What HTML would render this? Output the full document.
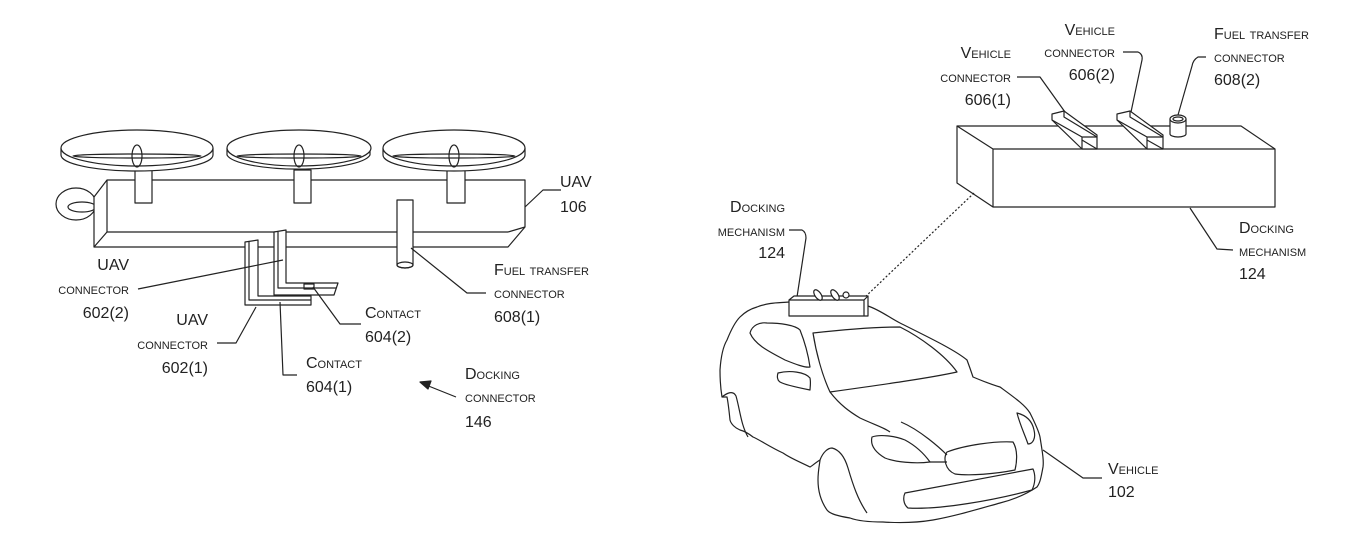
<!DOCTYPE html>
<html><head><meta charset="utf-8"><style>
html,body{margin:0;padding:0;background:#fff}
svg{display:block}
text{font-family:"Liberation Sans",sans-serif;fill:#222;font-size:16px}
.sc{font-variant:small-caps;font-size:16px}
</style></head><body>
<svg width="1359" height="558" viewBox="0 0 1359 558" xmlns="http://www.w3.org/2000/svg">
<g fill="none" stroke="#222" stroke-width="1.2" stroke-linejoin="round">
<!-- tail ring -->
<ellipse cx="76" cy="204" rx="20" ry="16"/>
<ellipse cx="82" cy="207" rx="14" ry="5"/>
<!-- body -->
<polygon points="94,197 107,180 525,180 525,227 508,247 94,247" fill="#fff"/>
<line x1="107" y1="180" x2="107" y2="232"/>
<line x1="107" y1="232" x2="94" y2="247"/>
<line x1="107" y1="232" x2="508" y2="232"/>
<line x1="508" y1="232" x2="525" y2="227"/>
<!-- masts -->
<rect x="135" y="170" width="17" height="33" fill="#fff"/>
<rect x="294" y="170" width="17" height="33" fill="#fff"/>
<rect x="447" y="170" width="18" height="33" fill="#fff"/>
<!-- rotors -->
<g fill="#fff">
<path d="M61,148 L61,155 A76,16 0 0 0 213,155 L213,148"/>
<ellipse cx="137" cy="148" rx="76" ry="18"/>
<path d="M227,148 L227,155 A72,16 0 0 0 370,155 L370,148"/>
<ellipse cx="299" cy="148" rx="72" ry="18"/>
<path d="M383,148 L383,155 A71,16 0 0 0 525,155 L525,148"/>
<ellipse cx="454" cy="148" rx="71" ry="18"/>
</g>
<g>
<ellipse cx="137" cy="156" rx="64" ry="2"/><ellipse cx="137" cy="156" rx="5" ry="11"/>
<ellipse cx="299" cy="156" rx="62" ry="2"/><ellipse cx="299" cy="156" rx="5" ry="11"/>
<ellipse cx="454" cy="156" rx="61" ry="2"/><ellipse cx="454" cy="156" rx="5" ry="11"/>
</g>
<!-- fuel cylinder -->
<path d="M397,200 L397,265 A8,3 0 0 0 413,265 L413,200 Z" fill="#fff"/>
<ellipse cx="405" cy="265" rx="8" ry="3"/>
<!-- L connectors -->
<path d="M245,242 L258,240 L258,296 L311,296 L311,305 L245,305 Z" fill="#fff"/>
<path d="M249,242 L249,300 L311,300"/>
<path d="M274,232 L286,230 L286,283 L338,283 L334,295 L274,295 Z" fill="#fff"/>
<path d="M278,232 L278,288 L336,288"/>
<rect x="304" y="284" width="10" height="5"/>
<!-- leaders left -->
<path d="M138,289 L283,260"/>
<path d="M217,343 L236,343 L256,307"/>
<path d="M361,324 L340,324 L313,287"/>
<path d="M297,375 L283,375 L280,302"/>
<path d="M486,293 L467,293 L411,248"/>
<path d="M561,190 L543,190 L525,207"/>
<path d="M456,397 L426,385"/>
<polygon points="420,382 431,381 428,389" fill="#222"/>

<!-- right docking box -->
<polygon points="957,126 1241,126 1275,149 1275,207 993,207 957,183" fill="#fff"/>
<path d="M957,126 L993,149 L1275,149 M993,149 L993,207"/>
<polygon points="1052,114 1064,111 1097,135 1097,149 1082,149 1052,120" fill="#fff"/>
<path d="M1064,111 L1064,117 L1097,137 M1082,149 L1082,137 L1052,120 M1082,137 L1097,137 M1082,140 L1097,149"/>
<polygon points="1117,114 1130,111 1163,135 1163,149 1147,149 1117,120" fill="#fff"/>
<path d="M1130,111 L1130,117 L1163,137 M1147,149 L1147,137 L1117,120 M1147,137 L1163,137 M1147,140 L1163,149"/>
<path d="M1170,119 L1170,134 A8,3 0 0 0 1186,134 L1186,119" fill="#fff"/>
<ellipse cx="1178" cy="119" rx="8" ry="4" fill="#fff"/>
<ellipse cx="1178" cy="119" rx="5" ry="2"/>
<!-- leaders right -->
<path d="M1017,77 L1040,77 L1065,112"/>
<path d="M1123,52 L1138,52 Q1143,54 1142,60 L1131,112"/>
<path d="M1206,57 L1198,57 Q1193,60 1192,66 L1178,115"/>
<path d="M1233,250 L1217,249 L1190,208"/>
<path d="M789,230 L802,230 Q806,232 806,238 L797,297"/>
<path d="M974,193 L864,298" stroke-dasharray="2,2"/>
<path d="M1043,450 L1083,478 L1102,478"/>

<!-- car -->
<path d="M757,307 C770,302 780,303 789,302 L868,306 C880,310 890,318 900,323 C930,338 955,350 967,360 C970,368 972,374 973,377 C985,382 993,385 1000,387 C1015,398 1025,405 1030,413 C1036,425 1039,432 1040,437 C1042,450 1044,460 1043,467 C1041,478 1040,483 1037,487 C1025,495 1012,500 1000,503 C975,510 955,516 933,520 C915,523 898,523 883,522 C868,522 858,521 850,518 C838,516 830,514 827,510 C820,500 818,490 818,480 C818,470 820,462 820,460 C815,463 812,466 810,467 C800,462 790,458 783,453 C770,447 760,440 753,437 C748,433 744,431 740,430 C735,428 731,424 730,420 C729,410 728,402 727,397 C725,397 723,397 722,397 C720,385 720,375 720,370 C721,355 724,345 727,340 C731,330 735,322 740,317 C745,312 750,309 757,307 Z" fill="#fff"/>
<path d="M820,460 C823,452 828,448 832,448 C840,450 845,458 848,468 C853,485 858,500 867,513"/>
<path d="M722,397 C727,393 733,390 736,396 C740,410 741,425 748,437"/>
<path d="M813,333 C840,330 870,327 900,327 C920,337 945,355 957,372 C930,378 880,385 830,392 C822,375 816,352 813,333 Z"/>
<path d="M750,333 C752,325 760,322 767,323 C780,323 795,325 800,330 C806,345 809,360 810,367 C805,368 795,364 785,360 C770,352 755,345 750,333 Z"/>
<path d="M778,373 C790,370 805,372 810,378 C811,383 810,388 810,390 C800,388 785,385 780,382 C777,380 777,376 778,373 Z"/>
<path d="M830,392 C840,405 850,412 860,418 C875,425 885,428 890,432"/>
<path d="M872,437 C880,434 895,436 905,440 C918,447 925,455 930,462 C915,464 895,462 885,458 C875,452 870,445 872,437 Z"/>
<path d="M930,462 L947,462"/>
<path d="M947,452 C965,445 995,441 1013,442 C1018,450 1017,462 1015,470 C995,474 970,476 955,474 C945,470 943,458 947,452 Z"/>
<path d="M1017,413 C1025,415 1032,420 1034,430 C1036,438 1033,444 1028,444 C1025,435 1020,425 1017,413 Z"/>
<path d="M905,493 C930,488 985,478 1033,469 C1036,476 1035,484 1032,490 C995,500 940,510 908,508 C903,504 903,497 905,493 Z"/>
<path d="M901,422 C920,430 940,448 947,455"/>
<!-- docking box on car -->
<polygon points="789,300 794,296 868,296 868,316 789,316" fill="#fff"/>
<path d="M789,300 L864,300 L868,296 M864,300 L864,316"/>
<ellipse cx="818" cy="295" rx="3" ry="6" transform="rotate(-35 818 295)" fill="#fff"/>
<ellipse cx="835" cy="295" rx="3" ry="6" transform="rotate(-35 835 295)" fill="#fff"/>
<circle cx="846" cy="295" r="3" fill="#fff"/>
</g>

<!-- labels left -->
<text x="560" y="187">UAV</text>
<text x="560" y="212">106</text>
<text x="129" y="270" text-anchor="end">UAV</text>
<text x="129" y="294" text-anchor="end" class="sc">connector</text>
<text x="129" y="318" text-anchor="end">602(2)</text>
<text x="208" y="325" text-anchor="end">UAV</text>
<text x="208" y="349" text-anchor="end" class="sc">connector</text>
<text x="208" y="373" text-anchor="end">602(1)</text>
<text x="365" y="318" class="sc">Contact</text>
<text x="365" y="342">604(2)</text>
<text x="306" y="368" class="sc">Contact</text>
<text x="306" y="392">604(1)</text>
<text x="494" y="275" class="sc">Fuel transfer</text>
<text x="494" y="298" class="sc">connector</text>
<text x="494" y="322">608(1)</text>
<text x="465" y="379" class="sc">Docking</text>
<text x="465" y="402" class="sc">connector</text>
<text x="465" y="427">146</text>
<!-- labels right -->
<text x="1011" y="58" text-anchor="end" class="sc">Vehicle</text>
<text x="1011" y="82" text-anchor="end" class="sc">connector</text>
<text x="1011" y="105" text-anchor="end">606(1)</text>
<text x="1115" y="35" text-anchor="end" class="sc">Vehicle</text>
<text x="1115" y="57" text-anchor="end" class="sc">connector</text>
<text x="1115" y="80" text-anchor="end">606(2)</text>
<text x="1214" y="39" class="sc">Fuel transfer</text>
<text x="1214" y="62" class="sc">connector</text>
<text x="1214" y="85">608(2)</text>
<text x="1239" y="233" class="sc">Docking</text>
<text x="1239" y="256" class="sc">mechanism</text>
<text x="1239" y="279">124</text>
<text x="785" y="212" text-anchor="end" class="sc">Docking</text>
<text x="785" y="236" text-anchor="end" class="sc">mechanism</text>
<text x="785" y="258" text-anchor="end">124</text>
<text x="1108" y="474" class="sc">Vehicle</text>
<text x="1108" y="497">102</text>
</svg>
</body></html>
